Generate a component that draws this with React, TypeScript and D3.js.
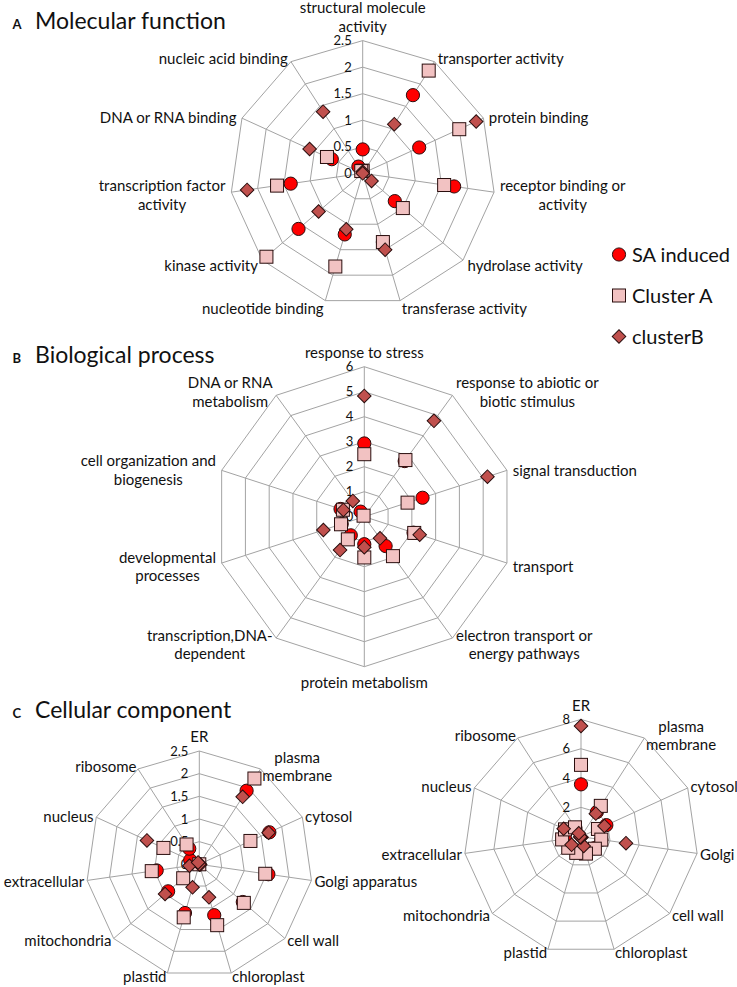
import React, { useRef, useEffect } from 'react';
import * as d3 from 'd3';

// Molecular function (panel A)
const mfAxes = [
  'structural molecule\nactivity', 'transporter activity', 'protein binding',
  'receptor binding or\nactivity', 'hydrolase activity', 'transferase activity',
  'nucleotide binding', 'kinase activity', 'transcription factor\nactivity',
  'DNA or RNA binding', 'nucleic acid binding',
];
const mfSA = [0.45, 1.75, 1.17, 1.74, 0.8, 1.35, 1.2, 1.6, 1.37, 0.64, 0.15];
const mfClusterA = [0.05, 2.3, 2.0, 1.55, 1.0, 1.35, 1.83, 2.4, 1.63, 0.74, 0.05];
const mfClusterB = [0.03, 1.1, 2.35, 0.0, 0.22, 1.5, 1.1, 1.1, 2.2, 1.1, 1.38];
const mfTicks = [0, 0.5, 1, 1.5, 2, 2.5];

// Biological process (panel B)
const bpAxes = [
  'response to stress', 'response to abiotic or\nbiotic stimulus', 'signal transduction',
  'transport', 'electron transport or\nenergy pathways', 'protein metabolism',
  'transcription,DNA-\ndependent', 'developmental\nprocesses',
  'cell organization and\nbiogenesis', 'DNA or RNA\nmetabolism',
];
const bpSA = [2.93, 2.75, 2.45, 2.07, 1.45, 1.1, 0.92, 0.95, 1.0, 0.25];
const bpClusterA = [2.5, 2.8, 1.82, 2.1, 1.95, 1.63, 1.12, 0.98, 0.9, 0.05];
const bpClusterB = [4.83, 4.74, 5.18, 2.33, 1.07, 1.22, 1.65, 1.72, 0.88, 0.78];
const bpTicks = [0, 1, 2, 3, 4, 5, 6];

// Cellular component (panel C)
const ccAxes = [
  'ER', 'plasma\nmembrane', 'cytosol', 'Golgi apparatus', 'cell wall', 'chloroplast',
  'plastid', 'mitochondria', 'extracellular', 'nucleus', 'ribosome',
];
const ccSA = [0.0, 1.93, 1.7, 1.54, 1.27, 1.17, 1.12, 0.91, 0.95, 0.22, 0.41];
const ccClusterA = [0.0, 2.25, 1.24, 1.47, 1.3, 1.4, 1.22, 0.47, 1.06, 0.87, 0.52];
const ccClusterB = [0.0, 1.77, 1.68, 0.02, 0.0, 0.76, 0.53, 1.0, 0.22, 1.27, 0.05];
const ccTicks = [0, 0.5, 1, 1.5, 2, 2.5];

const cc2SA = [3.57, 2.0, 1.9, 1.4, 1.2, 1.0, 1.0, 1.0, 1.1, 1.2, 0.7];
const cc2ClusterA = [4.9, 2.5, 1.27, 1.4, 1.25, 1.2, 1.15, 1.15, 1.3, 1.2, 0.76];
const cc2ClusterB = [7.55, 1.87, 1.76, 3.1, 0.05, 0.66, 0.05, 0.85, 0.05, 1.3, 0.28];
const cc2Ticks = [0, 2, 4, 6, 8];

const seriesNames = ['SA induced', 'Cluster A', 'clusterB'];

const FONT = 'Lato, "Open Sans", sans-serif';
const GRID = '#a3a3a3';
const RED = '#ff0000';
const PINK = '#f2c2c2';
const DARKPINK = '#c0504d';
const OUTLINE = '#2a0e0e';

type Radar = {
  cx: number; cy: number; R: number;
  axes: string[]; ticks: number[];
  series: number[][];
  labelOff: number;
};

const App: React.FC = () => {
  const svgRef = useRef<SVGSVGElement | null>(null);

  useEffect(() => {
    const svg = d3.select(svgRef.current);
    svg.selectAll('*').remove();

    const drawMarker = (g: any, kind: number, x: number, y: number) => {
      if (kind === 0) {
        g.append('circle').attr('cx', x).attr('cy', y).attr('r', 6.6)
          .attr('fill', RED).attr('stroke', OUTLINE).attr('stroke-width', 1);
      } else if (kind === 1) {
        g.append('rect').attr('x', x - 6.5).attr('y', y - 6.5)
          .attr('width', 13).attr('height', 13)
          .attr('fill', PINK).attr('stroke', OUTLINE).attr('stroke-width', 1);
      } else {
        g.append('path')
          .attr('d', d3.symbol().type(d3.symbolSquare).size(92)())
          .attr('transform', `translate(${x},${y}) rotate(45)`)
          .attr('fill', DARKPINK).attr('stroke', OUTLINE).attr('stroke-width', 1);
      }
    };

    const drawRadar = (cfg: Radar) => {
      const { cx, cy, R, axes, ticks, series, labelOff } = cfg;
      const n = axes.length;
      const max = ticks[ticks.length - 1];
      const r = d3.scaleLinear().domain([0, max]).range([0, R]);
      const ang = (i: number) => (i * 2 * Math.PI) / n;
      const pt = (i: number, v: number): [number, number] =>
        [cx + r(v) * Math.sin(ang(i)), cy - r(v) * Math.cos(ang(i))];

      const g = svg.append('g');

      // rings
      ticks.filter(t => t > 0).forEach(t => {
        const pts = axes.map((_, i) => pt(i, t));
        g.append('path')
          .attr('d', d3.line()(pts.concat([pts[0]])))
          .attr('fill', 'none').attr('stroke', GRID).attr('stroke-width', 1);
      });
      // spokes
      axes.forEach((_, i) => {
        const [x, y] = pt(i, max);
        g.append('line').attr('x1', cx).attr('y1', cy).attr('x2', x).attr('y2', y)
          .attr('stroke', GRID).attr('stroke-width', 1);
      });

      // tick labels
      ticks.forEach(t => {
        g.append('text')
          .attr('x', cx - 11).attr('y', cy - r(t))
          .attr('dy', '0.35em')
          .attr('text-anchor', 'end')
          .attr('font-family', FONT).attr('font-size', 13).attr('fill', '#111')
          .text(String(t));
      });

      // axis labels
      axes.forEach((lab, i) => {
        const lines = lab.split('\n');
        const dx = Math.sin(ang(i));
        const dy = -Math.cos(ang(i));
        const [ex, ey] = pt(i, max);
        const lh = 18.5;
        const texts = lines.map(l => g.append('text')
          .attr('font-family', FONT).attr('font-size', 15).attr('fill', '#111')
          .attr('text-anchor', 'middle').text(l));
        const w = d3.max(texts, t => (t.node() as SVGTextElement).getComputedTextLength()) || 0;
        let bx = ex;
        if (Math.abs(dx) > 0.05) {
          const ax = ex + dx * labelOff;
          bx = dx > 0 ? ax + w / 2 : ax - w / 2;
        }
        let firstCenter: number;
        if (dy < -0.99) {
          // top: last baseline just above the axis end
          firstCenter = ey - 9 - 5 - (lines.length - 1) * lh;
        } else if (dy > 0.99) {
          firstCenter = ey + 16;
        } else {
          const c = ey + dy * labelOff + (labelOff > 4 ? 2 : 0.5);
          firstCenter = c - ((lines.length - 1) * lh) / 2;
        }
        texts.forEach((t, k) => {
          t.attr('x', bx).attr('y', firstCenter + k * lh).attr('dy', '0.35em');
        });
      });

      // markers: SA, Cluster A, clusterB
      series.forEach((vals, s) => {
        vals.forEach((v, i) => {
          const [x, y] = pt(i, v);
          drawMarker(g, s, x, y);
        });
      });
    };

    // panel titles
    const titles: [string, string, number][] = [
      ['A', 'Molecular function', 29.3],
      ['B', 'Biological process', 362.7],
      ['C', 'Cellular component', 718.3],
    ];
    titles.forEach(([letter, title, y]) => {
      svg.append('text').attr('x', 12.5).attr('y', y)
        .attr('font-family', FONT).attr('font-size', 13).attr('font-weight', 'bold')
        .attr('fill', '#111').text(letter);
      svg.append('text').attr('x', 35).attr('y', y)
        .attr('font-family', FONT).attr('font-size', 23).attr('fill', '#111').text(title);
    });

    drawRadar({ cx: 362.7, cy: 173.3, R: 132.7, axes: mfAxes, ticks: mfTicks,
      series: [mfSA, mfClusterA, mfClusterB], labelOff: 6 });
    drawRadar({ cx: 364.3, cy: 516.7, R: 150, axes: bpAxes, ticks: bpTicks,
      series: [bpSA, bpClusterA, bpClusterB], labelOff: 6 });
    drawRadar({ cx: 199.3, cy: 864.3, R: 113.3, axes: ccAxes, ticks: ccTicks,
      series: [ccSA, ccClusterA, ccClusterB], labelOff: 3 });
    drawRadar({ cx: 581, cy: 836.7, R: 117.3, axes: ccAxes, ticks: cc2Ticks,
      series: [cc2SA, cc2ClusterA, cc2ClusterB], labelOff: 3 });

    // legend
    const legend = svg.append('g');
    seriesNames.forEach((name, s) => {
      const y = 254.5 + s * 41;
      drawMarker(legend, s, 619, y);
      legend.append('text').attr('x', 632).attr('y', y).attr('dy', '0.35em')
        .attr('font-family', FONT).attr('font-size', 20).attr('fill', '#111').text(name);
    });
  }, []);

  return (
    <svg ref={svgRef} width={737} height={987}
      style={{ position: 'absolute', left: 0, top: 0, background: '#fff' }} />
  );
};

export default App;
